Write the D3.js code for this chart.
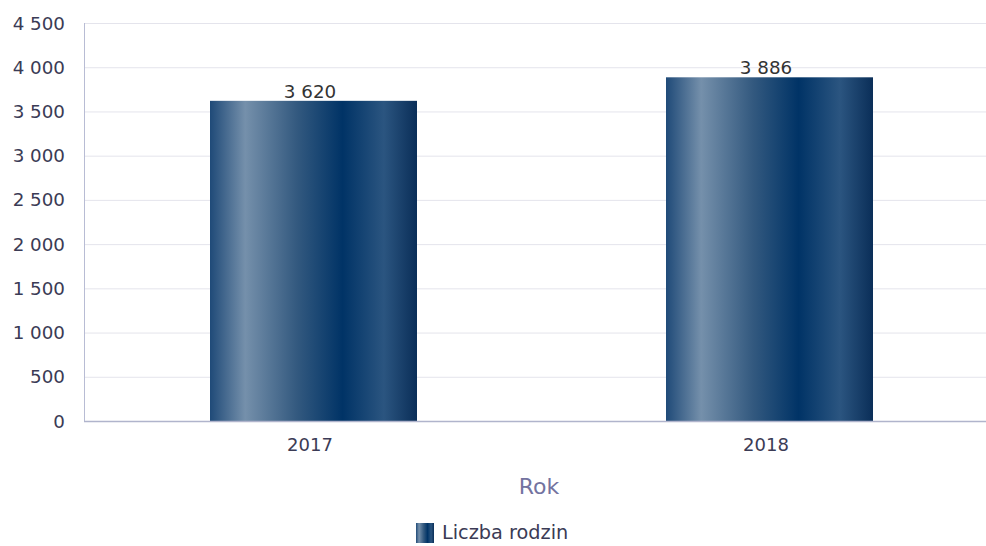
<!DOCTYPE html>
<html><head><meta charset="utf-8">
<script src="https://cdn.jsdelivr.net/npm/d3@7"></script>
<style>body{margin:0;background:#fff;}svg{display:block;font-family:"DejaVu Sans",Verdana,sans-serif;}</style>
</head><body><svg id="c" width="986" height="546"></svg>
<script>
const categories = ["2017", "2018"];
const values = [3620, 3886];
const yTicks = [0, 500, 1000, 1500, 2000, 2500, 3000, 3500, 4000, 4500];
const seriesName = "Liczba rodzin";
const axisTitle = "Rok";

const svg = d3.select("#c");
const m = {left: 84, top: 23, bottom: 421, right: 986};

const defs = svg.append("defs");
const g = defs.append("linearGradient").attr("id", "barGrad").attr("x1", "0%").attr("x2", "100%").attr("y1", "0%").attr("y2", "0%");
[[0, "#1f4a78"], [0.17, "#7590ab"], [0.42, "#33597f"], [0.64, "#003366"], [0.84, "#2b5580"], [1, "#0a2e58"]]
  .forEach(([o, c]) => g.append("stop").attr("offset", o).attr("stop-color", c));

const x = d3.scaleBand().domain(categories).range([85.5, 997.5]).paddingInner(0).paddingOuter(0);
const y = d3.scaleLinear().domain([0, 4500]).range([m.bottom, m.top]);
const fmt = v => d3.format(",")(v).replace(/,/g, " ");

// gridlines
svg.append("g").selectAll("line").data(yTicks.slice(1)).join("line")
  .attr("x1", m.left).attr("x2", m.right)
  .attr("y1", d => y(d) + 0.5).attr("y2", d => y(d) + 0.5)
  .attr("stroke", "#e4e4ec").attr("stroke-width", 1);

// y labels
svg.append("g").selectAll("text").data(yTicks).join("text")
  .attr("x", 65).attr("y", d => y(d)).attr("dy", "0.36em")
  .attr("text-anchor", "end").attr("fill", "#3b3b55").attr("font-size", 18.3)
  .text(fmt);

// bars
const bw = 207;
svg.append("g").selectAll("rect").data(values).join("rect")
  .attr("x", (d, i) => x(categories[i]) + x.bandwidth() / 2 - bw / 2)
  .attr("width", bw)
  .attr("y", d => y(d))
  .attr("height", d => y(0) - y(d))
  .attr("fill", "url(#barGrad)");

// value labels
svg.append("g").selectAll("text").data(values).join("text")
  .attr("x", (d, i) => x(categories[i]) + x.bandwidth() / 2 - 3.5)
  .attr("y", d => y(d) - 3)
  .attr("text-anchor", "middle").attr("fill", "#333").attr("font-size", 18.3)
  .text(fmt);

// axes lines
svg.append("line").attr("x1", m.left + 0.5).attr("x2", m.left + 0.5).attr("y1", m.top).attr("y2", m.bottom)
  .attr("stroke", "#b8bcd4").attr("stroke-width", 1);
svg.append("line").attr("x1", m.left).attr("x2", m.right).attr("y1", m.bottom + 0.5).attr("y2", m.bottom + 0.5)
  .attr("stroke", "#b0b4cc").attr("stroke-width", 1.5);

// x labels
svg.append("g").selectAll("text").data(categories).join("text")
  .attr("x", d => x(d) + x.bandwidth() / 2 - 3.5)
  .attr("y", 451)
  .attr("text-anchor", "middle").attr("fill", "#3b3b55").attr("font-size", 18)
  .text(d => d);

// axis title
svg.append("text").attr("x", 539).attr("y", 494).attr("text-anchor", "middle")
  .attr("fill", "#7373a0").attr("font-size", 22).text(axisTitle);

// legend
const lg = svg.append("g");
lg.append("rect").attr("x", 416).attr("y", 523).attr("width", 18).attr("height", 20).attr("fill", "url(#barGrad)");
lg.append("text").attr("x", 442).attr("y", 539).attr("fill", "#3b3b55").attr("font-size", 19.3).text(seriesName);
</script></body></html>
